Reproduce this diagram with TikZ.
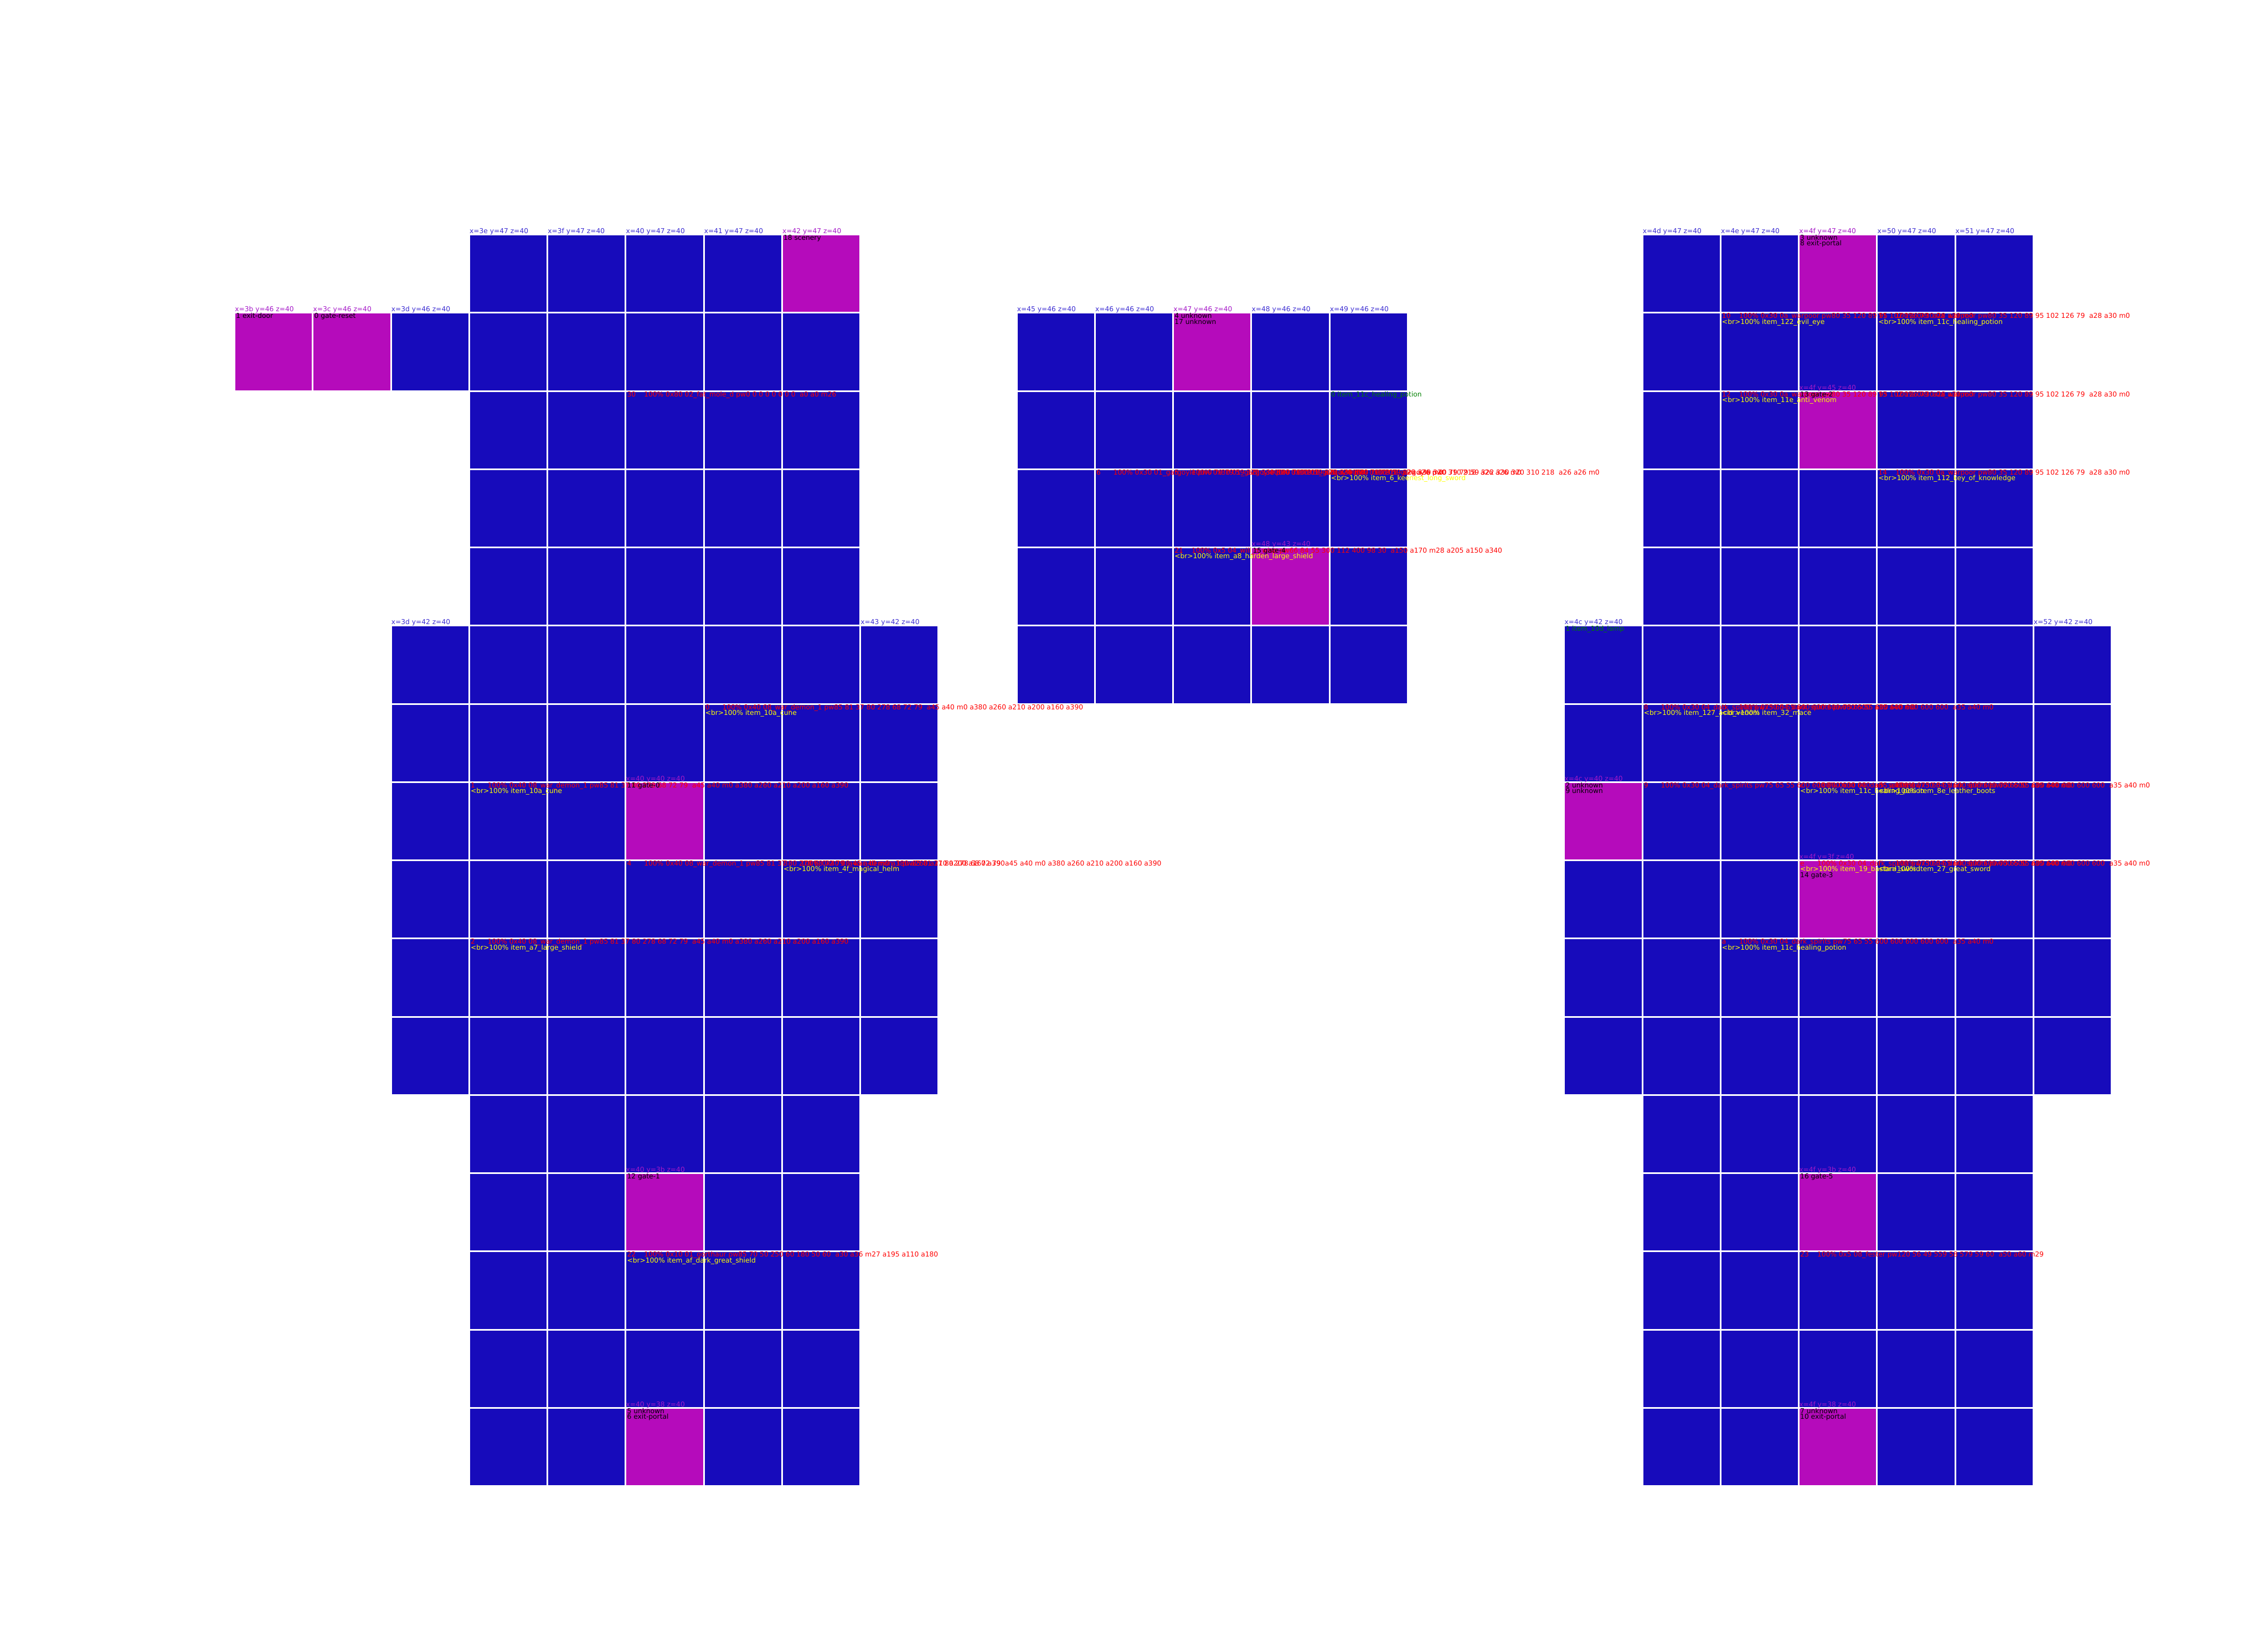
\documentclass[tikz,border=0pt]{standalone}
\usepackage{fontspec}
\newfontfamily\mapfont{DejaVu Sans}
\usepackage{xcolor}
\usepackage{tikz}
\usetikzlibrary{positioning}

\definecolor{roomblue}{RGB}{23,11,187}
\definecolor{roommag}{RGB}{181,11,187}
\definecolor{posblue}{RGB}{60,45,210}
\definecolor{posmag}{RGB}{165,25,200}
\definecolor{lootyel}{RGB}{255,255,0}
\definecolor{floorgreen}{RGB}{0,128,0}
\newcommand{\mobno}[1]{\makebox[9.3pt][l]{#1}}

\begin{document}
\begin{tikzpicture}[
  x=1.5cm, y=-1.5cm,
  room/.style={draw=white, line width=0.9pt, fill=roomblue, minimum size=1.5cm, inner sep=0pt, outer sep=0pt, anchor=north west},
  special/.style={room, fill=roommag},
  txt/.style={font=\mapfont\fontsize{3.7pt}{3.2pt}\selectfont, inner sep=0pt, anchor=base west},
  roompos/.style={txt, text=posblue, yshift=0.6pt},
  specpos/.style={roompos, text=posmag},
  ln1/.style={xshift=0.6pt, yshift=-3pt},
  ln2/.style={xshift=0.6pt, yshift=-6.1pt},
  ln3/.style={xshift=0.6pt, yshift=-9.2pt},
  tag/.style={txt, text=black},
  mob/.style={txt, text=red},
  loot/.style={txt, text=lootyel},
  item/.style={txt, text=floorgreen}]

  \useasboundingbox (0,0) rectangle (29,21);

  % west block
  \foreach \hy/\r in {47/3,46/4,45/5,44/6,43/7,3c/14,3b/15,3a/16,39/17,38/18}
    \foreach \hx/\c in {3e/6,3f/7,40/8,41/9,42/10}
      \node[room] (c\hx\hy) at (\c,\r) {};
  \foreach \hx/\c in {3b/3,3c/4,3d/5}
    \node[room] (c\hx46) at (\c,4) {};
  \foreach \hy/\r in {42/8,41/9,40/10,3f/11,3e/12,3d/13}
    \foreach \hx/\c in {3d/5,3e/6,3f/7,40/8,41/9,42/10,43/11}
      \node[room] (c\hx\hy) at (\c,\r) {};

  % middle block
  \foreach \hy/\r in {46/4,45/5,44/6,43/7,42/8}
    \foreach \hx/\c in {45/13,46/14,47/15,48/16,49/17}
      \node[room] (c\hx\hy) at (\c,\r) {};

  % east block
  \foreach \hy/\r in {47/3,46/4,45/5,44/6,43/7,3c/14,3b/15,3a/16,39/17,38/18}
    \foreach \hx/\c in {4d/21,4e/22,4f/23,50/24,51/25}
      \node[room] (c\hx\hy) at (\c,\r) {};
  \foreach \hy/\r in {42/8,41/9,40/10,3f/11,3e/12,3d/13}
    \foreach \hx/\c in {4c/20,4d/21,4e/22,4f/23,50/24,51/25,52/26}
      \node[room] (c\hx\hy) at (\c,\r) {};

  % gates, doors and portals
  \foreach \cc in {4247,3b46,3c46,4040,403b,4038,4746,4843,4f47,4f45,4c40,4f3f,4f3b,4f38}
    \node[special] (g\cc) at (c\cc.north west) {};

  % monsters
  \node[mob, ln1] (a4045) at (c4045.north west) {\mobno{30}100\% 0x80 02\_fat\_mole\_d pw0 0 0 0 0 0 0 0\ \ a0 a0 m26};
  \foreach \cc/\id in {4141/0,3e40/1,403f/4,423f/3,3e3e/2}
    \node[mob, ln1] (a\cc) at (c\cc.north west) {\mobno{\id}100\% 0x40 08\_war\_demon\_1 pw85 81 37 80 278 68 72 79\ \ a45 a40 m0 a380 a260 a210 a200 a160 a390};
  \node[mob, ln1] (a403a) at (c403a.north west) {\mobno{22}100\% 0x10 01\_gorthaur pw85 70 50 250 60 180 50 60\ \ a30 a36 m27 a195 a110 a180};
  \foreach \cc/\id in {4644/6,4744/5,4844/3,4944/1}
    \node[mob, ln1] (a\cc) at (c\cc.north west) {\mobno{\id}100\% 0x30 01\_gargoyle pw0 79 79 59 322 330 320 310 218\ \ a26 a26 m0};
  \node[mob, ln1] (a4743) at (c4743.north west) {\mobno{21}100\% 0x5 04\_will\_o\_wisp pw66 84 55 300 112 400 98 30\ \ a150 a170 m28 a205 a150 a340};
  \foreach \cc/\id in {4e46/10,5046/11,4e45/12,5045/13,5044/14}
    \node[mob, ln1] (a\cc) at (c\cc.north west) {\mobno{\id}100\% 0x30 0a\_warpoor pw80 35 120 89 95 102 126 79\ \ a28 a30 m0};
  \foreach \cc/\id in {4d41/8,4e41/b,4d40/9,4f40/c,5040/d,4f3f/e,503f/f,4e3e/a}
    \node[mob, ln1] (a\cc) at (c\cc.north west) {\mobno{\id}100\% 0x30 04\_dark\_spirits pw75 65 55 600 600 600 600 600\ \ a35 a40 m0};
  \node[mob, ln1] (a4f3a) at (c4f3a.north west) {\mobno{23}100\% 0x5 08\_fester pw120 56 49 559 58 579 59 60\ \ a50 a60 m29};

  % drops
  \foreach \cc/\what in {4141/10a\_cune, 3e40/10a\_cune, 423f/4f\_magical\_helm, 3e3e/a7\_large\_shield,
      403a/af\_dark\_great\_shield, 4944/6\_keenest\_long\_sword, 4743/a8\_harden\_large\_shield,
      4e46/122\_evil\_eye, 5046/11c\_healing\_potion, 4e45/11e\_anti\_venom, 5044/112\_key\_of\_knowledge,
      4d41/127\_acid\_venom, 4e41/32\_mace, 4f40/11c\_healing\_potion, 5040/8e\_leather\_boots,
      4f3f/19\_bastard\_sword, 503f/27\_great\_sword, 4e3e/11c\_healing\_potion}
    \node[loot, ln2] (b\cc) at (c\cc.north west) {<br>100\% item\_\what};

  % floor items
  \node[item, ln1] (a4945) at (c4945.north west) {0 item\_11c\_healing\_potion};
  \node[item, ln1] (a4c42) at (c4c42.north west) {1 item\_10d\_lamp};

  % room tags
  \node[tag, ln1] (a4247) at (c4247.north west) {18 scenery};
  \node[tag, ln1] (a3b46) at (c3b46.north west) {1 exit-door};
  \node[tag, ln1] (a3c46) at (c3c46.north west) {0 gate-reset};
  \node[tag, ln1] (t4040) at (c4040.north west) {11 gate-0};
  \node[tag, ln1] (a403b) at (c403b.north west) {12 gate-1};
  \node[tag, ln1] (a4038) at (c4038.north west) {5 unknown};
  \node[tag, ln2] (b4038) at (c4038.north west) {6 exit-portal};
  \node[tag, ln1] (a4746) at (c4746.north west) {4 unknown};
  \node[tag, ln2] (b4746) at (c4746.north west) {17 unknown};
  \node[tag, ln1] (t4843) at (c4843.north west) {15 gate-4};
  \node[tag, ln1] (a4f47) at (c4f47.north west) {3 unknown};
  \node[tag, ln2] (b4f47) at (c4f47.north west) {8 exit-portal};
  \node[tag, ln1] (t4f45) at (c4f45.north west) {13 gate-2};
  \node[tag, ln1] (a4c40) at (c4c40.north west) {2 unknown};
  \node[tag, ln2] (b4c40) at (c4c40.north west) {9 unknown};
  \node[tag, ln3] (t4f3f) at (c4f3f.north west) {14 gate-3};
  \node[tag, ln1] (a4f3b) at (c4f3b.north west) {16 gate-5};
  \node[tag, ln1] (a4f38) at (c4f38.north west) {7 unknown};
  \node[tag, ln2] (b4f38) at (c4f38.north west) {10 exit-portal};

  % positions
  \foreach \hx/\hy in {3e/47,3f/47,40/47,41/47,3d/46,3d/42,43/42,45/46,46/46,48/46,49/46,4d/47,4e/47,50/47,51/47,4c/42,52/42}
    \node[roompos] (p\hx\hy) at (c\hx\hy.north west) {x=\hx\ y=\hy\ z=40};
  \foreach \hx/\hy in {42/47,3b/46,3c/46,40/40,40/3b,40/38,47/46,48/43,4f/47,4f/45,4c/40,4f/3f,4f/3b,4f/38}
    \node[specpos] (q\hx\hy) at (c\hx\hy.north west) {x=\hx\ y=\hy\ z=40};
\end{tikzpicture}
\end{document}
